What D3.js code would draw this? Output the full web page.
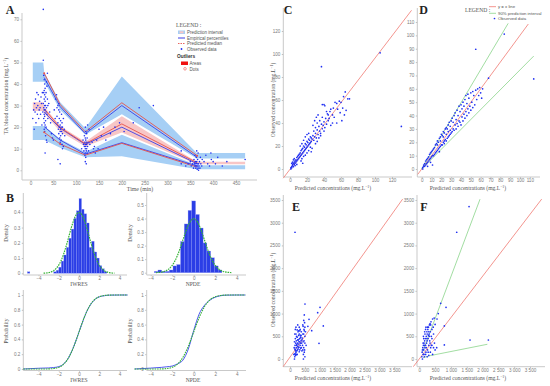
<html><head>
<script src="https://d3js.org/d3.v7.min.js"></script>
<style>
  body { margin: 0; background: #fff; }
  svg { display: block; }
  .tick text { fill: #7a7a7a; font-family: "Liberation Sans", Arial, sans-serif; }
  .tick line { stroke: #bdbdbd; }
  .axline { stroke: #c9c9c9; stroke-width: 1px; }
  .title { font-family: "Liberation Serif", serif; fill: #555; }
  .letter { font-family: "Liberation Serif", serif; font-weight: bold; font-size: 12px; fill: #222; }
  .leg { font-family: "Liberation Sans", Arial, sans-serif; fill: #555; }
</style>
</head>
<body>
<script>
// ---------- Panel A : VPC ----------
const piTime  = [5, 28, 30, 65, 120, 200, 364, 470];
const piUpLo  = [41, 41, 41, 28, 16.5, 26, 5.5, 5.5];
const piUpHi  = [50, 50, 45.5, 31.5, 19.5, 43.5, 8, 8];
const piMedLo = [27.5, 27.5, 26.5, 18, 11, 17.5, 2.8, 2.8];
const piMedHi = [31.5, 31.5, 29.5, 20.5, 13.2, 25, 4, 4];
const piLowLo = [14, 14, 14, 10.5, 6, 6.5, 0.5, 0.5];
const piLowHi = [20.5, 20.5, 20.5, 14.5, 8.5, 16.5, 2.3, 2.3];

const lineTime = [30, 65, 120, 200, 365];
const empUpper = [43, 29.5, 17, 30, 6];
const empMed   = [27, 19.5, 12, 20, 3];
const empLow   = [20.2, 14, 7.5, 12.8, 2];
const predUpper = [45, 30.5, 17.8, 31.3, 6.8];
const predMed   = [28.5, 19.8, 12.3, 21.5, 3.5];
const predLow   = [17.6, 12.2, 7, 12.5, 1.5];
const outlierDots = [[30, 45], [30, 17.6], [65, 12.2], [365, 6.8]];

const obsA = [
  [5,24],[7,28],[8,19],[9,31],[10,27],[11,33],[12,22],[13,29],[14,36],[15,26],[16,30],[17,35],[18,24],[19,28],[20,32],[21,29],[22,26],[23,34],[24,31],[25,21],[26,36],[27,27],
  [28,51],[29,44],[30,42],[31,40],[32,38],[30,37],[29,36],[31,35],[33,34],[30,33],[32,32],[28,31],[31,30],[33,30],[29,29],[30,28],[32,28],[34,27],[30,26],[31,25],[29,24],[33,23],[30,22],[32,21],[34,20],[30,19],[31,18],[33,16],[35,14],[36,13],[32,8],[35,41],[36,39],[34,36],[37,33],[38,30],[36,26],[37,45],[35,29],[38,24],
  [40,31],[42,27],[44,22],[46,17],[48,15],[50,14],[52,28],[54,24],
  [55,33],[57,35],[58,25],[60,30],[60,22],[61,19],[62,28],[62,17],[63,24],[63,20],[64,15],[64,27],[65,21],[65,18],[65,13],[66,19],[66,23],[66,16],[67,20],[67,14],[68,26],[68,18],[69,22],[69,12],[70,17],[70,20],[72,11],[72,24],[74,19],[75,16],[60,5],[65,3],[70,10],[58,29],[62,31],
  [112,10],[115,14],[116,12],[117,9],[118,16],[118,11],[119,13],[119,7],[120,20],[120,15],[120,12],[120,10],[120,8],[120,4],[121,18],[121,14],[121,11],[121,6],[122,13],[122,9],[122,3],[123,17],[123,12],[123,10],[124,15],[124,8],[125,21],[125,11],[126,13],[127,9],[128,19],[130,12],
  [135,13],[138,10],[140,11],[142,8],[145,14],[148,10],[150,19],[155,16],[160,20],[165,14],[175,17],[185,20],[195,22],[205,18],[225,22],[238,29],[269,30],[330,9],
  [350,4],[352,2],[355,3],[357,1],[358,5],[359,3],[360,2],[360,7],[361,4],[362,1],[362,3],[363,6],[363,2],[364,9],[364,4],[365,0.5],[365,3],[366,2],[366,5],[367,1],[367,8],[368,3],[368,0],[369,2],[370,4],[371,1],[372,6],[373,3],[375,2],[376,5],
  [330,3],[340,2],[345,3],[380,4],[384,7],[388,3],[392,2],[396,5],[400,4],[405,3],[410,6],[420,2],[430,4],[470,5],[395,8],
  [28,74.6]
];
const ticksA_x = [0, 50, 100, 150, 200, 250, 300, 350, 400, 450];
const ticksA_y = [0, 10, 20, 30, 40, 50, 60, 70];

// ---------- Panel B : residual distributions ----------
const iwresBins = [-5.1, -2.5, -2.25, -2, -1.75, -1.5, -1.25, -1, -0.75, -0.5, -0.25, 0, 0.25, 0.5, 0.75, 1, 1.25, 1.5, 1.75, 2, 2.25, 2.5];
const iwresDens = [0.01, 0.01, 0.02, 0.04, 0.08, 0.12, 0.17, 0.23, 0.29, 0.36, 0.41, 0.49, 0.42, 0.39, 0.33, 0.17, 0.21, 0.14, 0.1, 0.05, 0.03, 0.01];
const iwresWidth = 0.25;
const npdeCenters = [-3.5, -3.15, -2.8, -2.45, -2.1, -1.75, -1.4, -1.05, -0.7, -0.35, 0, 0.35, 0.7, 1.05, 1.4, 1.75, 2.1, 2.45];
const npdeDens = [0.01, 0.02, 0.01, 0.01, 0.02, 0.05, 0.06, 0.23, 0.36, 0.46, 0.53, 0.43, 0.33, 0.22, 0.16, 0.11, 0.05, 0.02];
const npdeWidth = 0.35;

const normX = [-4,-3.75,-3.5,-3.25,-3,-2.75,-2.5,-2.25,-2,-1.75,-1.5,-1.25,-1,-0.75,-0.5,-0.25,0,0.25,0.5,0.75,1,1.25,1.5,1.75,2,2.25,2.5,2.75,3,3.25,3.5,3.75,4];
const normPdf = [0.0001,0.0004,0.0009,0.002,0.0044,0.0091,0.0175,0.0317,0.054,0.0863,0.1295,0.1826,0.242,0.3011,0.3521,0.3867,0.3989,0.3867,0.3521,0.3011,0.242,0.1826,0.1295,0.0863,0.054,0.0317,0.0175,0.0091,0.0044,0.002,0.0009,0.0004,0.0001];
const cdfX = [-5.5, -4, -3, -2.5, -2, -1.5, -1, -0.5, 0, 0.5, 1, 1.5, 2, 2.5, 3, 4, 4.8];
const iwresCdf = [0, 0.01, 0.014, 0.02, 0.032, 0.07, 0.16, 0.31, 0.5, 0.69, 0.84, 0.93, 0.975, 0.99, 0.998, 1, 1];
const npdeCdf  = [0, 0.012, 0.022, 0.03, 0.04, 0.07, 0.12, 0.27, 0.52, 0.74, 0.86, 0.93, 0.97, 0.99, 0.998, 1, 1];
const normCdfWide = [0, 0, 0.0013, 0.0062, 0.0228, 0.0668, 0.1587, 0.3085, 0.5, 0.6915, 0.8413, 0.9332, 0.9772, 0.9938, 0.9987, 1, 1];

// ---------- Panels C, D : predicted vs observed (mg/L) ----------
const obsC = [
  [1,0],[1,1],[2,2],[2,1],[3,3],[3,4],[4,2],[4,5],[5,4],[5,6],[6,5],[6,7],[7,6],[7,8],[8,7],[8,10],[9,8],[9,11],[10,9],[10,12],[11,10],[11,13],[12,11],[12,14],[3,6],[4,8],[6,3],[8,4],[2,5],[5,9],
  [13,12],[13,16],[14,13],[14,17],[15,14],[15,18],[16,15],[16,20],[17,16],[17,19],[18,17],[18,22],[19,18],[19,21],[20,19],[20,24],[21,20],[21,23],[22,21],[22,26],[23,22],[23,25],[24,23],[24,28],[25,24],[25,27],[14,9],[16,11],[18,12],[20,14],[22,16],[24,19],[12,20],[14,22],[16,25],[18,28],[20,30],[22,31],[15,5],[25,15],[26,18],[13,7],
  [26,26],[27,29],[28,25],[28,33],[29,28],[30,31],[30,36],[31,27],[32,34],[32,40],[33,30],[34,37],[35,33],[35,42],[36,31],[37,39],[38,35],[38,45],[39,38],[40,41],[40,33],[41,36],[42,44],[43,39],[44,48],[45,42],[30,22],[32,24],[34,27],[36,29],[27,38],[29,42],[31,45],[33,47],
  [38,56],[40,56],[41,55],[43,50],[45,47],[46,44],[47,50],[48,52],[50,47],[51,53],[52,45],[53,58],[55,57],[56,52],[58,59],[59,49],[60,58],[61,42],[62,53],[63,63],[64,47],[65,67],[66,51],[68,61],[70,61],[48,38],[50,40],[55,40],
  [37,89],[106,101],[131,37]
];
const obsD = [
  [1,1],[1,0],[2,2],[2,3],[3,2],[3,4],[4,3],[4,6],[5,4],[5,7],[6,5],[6,8],[7,6],[7,9],[8,7],[8,11],[9,8],[9,12],[10,9],[10,13],[11,10],[11,14],[12,10],[12,15],[13,11],[13,16],[11,3],[6,2],[9,5],
  [14,12],[14,18],[15,13],[15,19],[16,14],[16,21],[17,15],[17,20],[18,16],[18,23],[19,17],[19,24],[20,18],[20,26],[21,18],[21,25],[22,20],[22,28],[23,21],[23,27],[24,22],[24,30],[25,21],[25,31],[26,23],[26,30],[27,24],[27,33],[28,25],[28,35],[29,26],[29,32],[30,27],[30,36],[16,18],[19,21],[22,24],[25,26],[27,28],[29,29],[18,13],[23,19],
  [31,28],[31,38],[32,30],[32,35],[33,29],[33,40],[34,33],[34,42],[35,30],[35,37],[36,34],[36,44],[37,32],[37,40],[38,36],[38,47],[39,35],[39,43],[40,33],[40,48],[41,39],[41,45],[42,36],[42,50],[43,41],[43,47],[44,38],[44,52],[45,43],[45,55],[46,40],[46,49],[47,45],[47,56],[48,42],[48,53],[49,47],[50,44],[50,57],[51,50],[52,46],[52,58],[53,55],[54,48],[55,59],[56,52],[57,60],[58,55],[59,61],[60,57],[61,53],[62,60],
  [55,89.6],[84,101],[68,68],[114,67.4]
];
const ticksC = [0, 20, 40, 60, 80, 100, 120];
const ticksD = [0, 10, 20, 30, 40, 50, 60, 70, 80, 90, 100, 110];
const refLineC = [[-8, -8], [143, 138]];
const refLineD = [[-4, -4], [108.5, 108.5]];
const greenUpD = [[0, 0], [88, 109]];
const greenLoD = [[0, 0], [114, 84.5]];

// ---------- Panels E, F : predicted vs observed (large scale) ----------
const obsE = [
  [150,0],[160,50],[170,120],[180,200],[190,80],[200,150],[210,250],[220,300],[230,180],[240,100],[250,350],[260,280],[270,220],[280,420],[290,330],[300,260],[310,160],[320,380],[330,450],[340,300],[350,520],[360,240],[370,400],[380,600],[390,350],[400,180],[410,460],[420,300],[430,550],[440,720],[450,100],[460,250],[470,400],[480,620],[490,800],[500,50],[500,350],[500,500],[490,200],[470,650],[450,0],[460,850],
  [130,100],[140,250],[150,380],[160,220],[170,300],[180,450],[190,350],[200,550],[210,400],[220,100],[230,320],[240,480],[250,200],[260,420],[270,600],[280,250],[290,520],[300,380],[310,700],[320,450],[330,200],[340,650],[350,350],[360,480],[380,250],[400,420],[430,200],[440,380],[460,550],[480,150],[160,550],[180,650],[200,700],[220,500],[240,640],[260,750],[290,620],[310,550],[330,620],[370,520],[500,700],[520,600],[540,300],[170,100],[190,180],
  [168,2790],[503,1211],[1007,1138],[929,1020],[1118,727],[973,345],[638,874],[728,623],[480,970],[430,750],[600,720]
];
const obsF = [
  [80,50],[90,150],[100,0],[110,250],[120,100],[130,300],[140,200],[150,350],[160,50],[170,400],[180,250],[190,450],[200,300],[210,150],[220,500],[230,350],[240,600],[250,400],[260,200],[270,650],[280,450],[290,700],[300,300],[310,550],[320,750],[330,400],[340,780],[350,600],[360,250],[370,820],[380,500],[400,650],[420,880],[440,700],[470,900],[500,760],
  [100,200],[120,350],[140,450],[160,300],[180,550],[200,650],[220,250],[240,450],[260,700],[280,150],[300,600],[320,500],[340,350],[360,750],[380,300],[400,450],[420,100],[450,550],[480,350],[500,200],[550,250],[150,100],[200,100],[250,50],[300,80],[350,150],[400,300],[450,250],[130,500],[170,600],[210,700],[250,550],[290,520],[600,1000],[560,880],
  [1573,3355],[1183,2790],[1604,418],[2184,418],[676,1226],[845,1138],[792,727],[792,309]
];
const ticksEF_x = [0, 500, 1000, 1500, 2000, 2500, 3000, 3500];
const ticksEF_y = [0, 500, 1000, 1500, 2000, 2500, 3000, 3500];
const refLineE = [[-230, -170], [3780, 3520]];
const refLineF = [[-190, -170], [3870, 3520]];
const greenUpF = [[108, 161], [1920, 3518]];
const greenLoF = [[120, 30], [338, 73], [2152, 324]];

// ---------- drawing ----------
const svg = d3.select("body").append("svg").attr("width", 550).attr("height", 386);

const BLUE_BAND = "#a6cff5", PINK_BAND = "#f8c6c6";
const BLUE_LINE = "#3b3fe6", RED_LINE = "#e6524c";
const DOT = "#2030f2", REF_RED = "#f07a72", REF_GREEN = "#8ad48a", HIST = "#2b3ee6", NORM = "#35b335";

function axes(x, y, o) {
  const g = svg.append("g");
  g.append("g").attr("transform", "translate(0," + o.bottom + ")")
    .call(d3.axisBottom(x).tickValues(o.xt).tickSize(1.2).tickPadding(0.6).tickFormat(o.xf || (d => d)));
  g.append("g").attr("transform", "translate(" + o.left + ",0)")
    .call(d3.axisLeft(y).tickValues(o.yt).tickSize(1.5).tickPadding(1.5).tickFormat(o.yf || (d => d)));
  g.selectAll(".domain").remove();
  g.selectAll(".tick text").style("font-size", "4.6px");
  g.append("line").attr("class", "axline")
    .attr("x1", o.left).attr("x2", o.right).attr("y1", o.bottom).attr("y2", o.bottom);
  g.append("line").attr("class", "axline")
    .attr("x1", o.left).attr("x2", o.left).attr("y1", o.top).attr("y2", o.bottom);
}

function dots(pts, x, y, r) {
  svg.append("g").selectAll("circle").data(pts).join("circle")
    .attr("cx", d => x(d[0])).attr("cy", d => y(d[1]))
    .attr("r", r || 0.85).attr("fill", DOT);
}

function polyline(pts, x, y, color, w, dash) {
  svg.append("path").attr("d", d3.line().x(d => x(d[0])).y(d => y(d[1]))(pts))
    .attr("fill", "none").attr("stroke", color).attr("stroke-width", w || 0.9)
    .attr("stroke-dasharray", dash || null);
}

function text(x, y, s, size, cls, rotate, anchor) {
  const t = svg.append("text").attr("class", cls).attr("font-size", size)
    .attr("text-anchor", anchor || "middle").text(s);
  if (rotate) t.attr("transform", "translate(" + x + "," + y + ") rotate(-90)");
  else t.attr("x", x).attr("y", y);
  return t;
}

function supText(x, y, base, size, cls, rotate) {
  const t = text(x, y, "", size, cls, rotate);
  t.append("tspan").text(base + " (mg.L");
  t.append("tspan").attr("dy", -size * 0.35).attr("font-size", size * 0.7).text("−1");
  t.append("tspan").attr("dy", size * 0.35).text(")");
}

// Panel A
const xA = d3.scaleLinear().domain([0, 450]).range([30.5, 236]);
const yA = d3.scaleLinear().domain([0, 70]).range([170.3, 19.3]);
axes(xA, yA, { left: 22, right: 257, top: 13, bottom: 180, xt: ticksA_x, yt: ticksA_y });

const band = (lo, hi) => d3.area()
  .x((d, i) => xA(piTime[i])).y0((d, i) => yA(lo[i])).y1((d, i) => yA(hi[i]))(piTime);
svg.append("path").attr("d", band(piUpLo, piUpHi)).attr("fill", BLUE_BAND);
svg.append("path").attr("d", band(piMedLo, piMedHi)).attr("fill", PINK_BAND);
svg.append("path").attr("d", band(piLowLo, piLowHi)).attr("fill", BLUE_BAND);

[[empUpper, BLUE_LINE], [empMed, BLUE_LINE], [empLow, BLUE_LINE],
 [predUpper, RED_LINE], [predMed, RED_LINE], [predLow, RED_LINE]].forEach(([vals, c]) => {
  polyline(lineTime.map((t, i) => [t, vals[i]]), xA, yA, c, 0.9);
});
dots(obsA, xA, yA, 0.8);
svg.append("g").selectAll("circle").data(outlierDots).join("circle")
  .attr("cx", d => xA(d[0])).attr("cy", d => yA(d[1])).attr("r", 1)
  .attr("fill", RED_LINE);

text(10, 14, "A", 11, "letter");
supText(8, 96, "TA blood concentration", 5.8, "title", true);
text(140, 191, "Time (min)", 5.8, "title");

// legend A
const lg = svg.append("g").attr("class", "leg");
lg.append("text").attr("x", 176).attr("y", 27).attr("font-size", 5.6)
  .attr("font-family", "Liberation Serif, serif").attr("fill", "#555").text("LEGEND :");
lg.append("rect").attr("x", 178).attr("y", 30.5).attr("width", 7).attr("height", 3.5).attr("fill", BLUE_BAND);
lg.append("rect").attr("x", 179.5).attr("y", 31.3).attr("width", 4).attr("height", 2).attr("fill", PINK_BAND);
lg.append("line").attr("x1", 178).attr("x2", 185).attr("y1", 38).attr("y2", 38).attr("stroke", BLUE_LINE).attr("stroke-width", 1);
lg.append("line").attr("x1", 178).attr("x2", 185).attr("y1", 43.5).attr("y2", 43.5).attr("stroke", RED_LINE).attr("stroke-width", 0.9).attr("stroke-dasharray", "1.5,1");
lg.append("circle").attr("cx", 181.5).attr("cy", 49).attr("r", 0.9).attr("fill", DOT);
[["Prediction interval", 33.8], ["Empirical percentiles", 39.5], ["Predicted median", 45], ["Observed data", 50.5]]
  .forEach(([s, yy]) => lg.append("text").attr("class", "leg").attr("x", 187).attr("y", yy).attr("font-size", 4.5).text(s));
lg.append("text").attr("x", 177).attr("y", 58).attr("font-size", 4.8).attr("font-weight", "bold").attr("fill", "#333").text("Outliers");
lg.append("rect").attr("x", 181).attr("y", 61.5).attr("width", 7).attr("height", 3.5).attr("fill", "#f01010");
lg.append("text").attr("class", "leg").attr("x", 189.5).attr("y", 64.8).attr("font-size", 4.5).text("Areas");
lg.append("circle").attr("cx", 185).attr("cy", 68.8).attr("r", 1.3).attr("fill", "none").attr("stroke", "#f05050").attr("stroke-width", 0.6);
lg.append("text").attr("class", "leg").attr("x", 189.5).attr("y", 70.5).attr("font-size", 4.5).text("Dots");

// Panel B
const yB1 = d3.scaleLinear().domain([0, 0.4]).range([273.3, 212.3]);
const yB2 = d3.scaleLinear().domain([0, 0.5]).range([272.7, 205]);
const yB3 = d3.scaleLinear().domain([0, 1]).range([369, 295]);
const xBL = d3.scaleLinear().domain([-4, 4]).range([38.5, 119.5]);
const xBR = d3.scaleLinear().domain([-4, 4]).range([150.7, 236.7]);
const xtB = [-4, -2, 0, 2, 4];
const fmtNeg = d => (d < 0 ? "−" + Math.abs(d) : d);

axes(xBL, yB1, { left: 23.3, right: 127, top: 193, bottom: 275, xt: xtB, yt: [0, 0.1, 0.2, 0.3, 0.4], xf: fmtNeg });
axes(xBR, yB2, { left: 146.7, right: 246, top: 193, bottom: 275, xt: xtB, yt: [0, 0.1, 0.2, 0.3, 0.4, 0.5], xf: fmtNeg });
axes(xBL, yB3, { left: 23.3, right: 127, top: 290, bottom: 370.5, xt: xtB, yt: [0, 0.2, 0.4, 0.6, 0.8, 1], xf: fmtNeg });
axes(xBR, yB3, { left: 146.7, right: 246, top: 290, bottom: 370.5, xt: xtB, yt: [0, 0.2, 0.4, 0.6, 0.8, 1], xf: fmtNeg });

svg.append("g").selectAll("rect").data(iwresBins).join("rect")
  .attr("x", d => xBL(d)).attr("width", xBL(iwresWidth) - xBL(0))
  .attr("y", (d, i) => yB1(iwresDens[i])).attr("height", (d, i) => yB1(0) - yB1(iwresDens[i]))
  .attr("fill", HIST).attr("stroke", "#8f9af5").attr("stroke-width", 0.25);
svg.append("g").selectAll("rect").data(npdeCenters).join("rect")
  .attr("x", d => xBR(d - npdeWidth / 2)).attr("width", xBR(npdeWidth) - xBR(0))
  .attr("y", (d, i) => yB2(npdeDens[i])).attr("height", (d, i) => yB2(0) - yB2(npdeDens[i]))
  .attr("fill", HIST).attr("stroke", "#8f9af5").attr("stroke-width", 0.3);

function curve(xs, ys, x, y, color, w, dash) {
  svg.append("path")
    .attr("d", d3.line().curve(d3.curveMonotoneX).x((d, i) => x(xs[i])).y((d, i) => y(ys[i]))(xs))
    .attr("fill", "none").attr("stroke", color).attr("stroke-width", w).attr("stroke-dasharray", dash || null);
}
const pdfTrim = normX.map((d, i) => i).filter(i => normX[i] >= -3.5 && normX[i] <= 3.5);
curve(pdfTrim.map(i => normX[i]), pdfTrim.map(i => normPdf[i]), xBL, yB1, NORM, 1.2, "1.6,0.9");
curve(pdfTrim.map(i => normX[i]), pdfTrim.map(i => normPdf[i]), xBR, yB2, NORM, 1.2, "1.6,0.9");

curve(cdfX, iwresCdf, xBL, yB3, "#3a44ee", 0.9);
curve(cdfX, normCdfWide, xBL, yB3, NORM, 1.1, "1.6,0.9");
curve(cdfX, npdeCdf, xBR, yB3, "#3a44ee", 0.9);
curve(cdfX, normCdfWide, xBR, yB3, NORM, 1.1, "1.6,0.9");

text(10, 202, "B", 11, "letter");
text(7.5, 233, "Density", 5.6, "title", true);
text(131.5, 233, "Density", 5.6, "title", true);
text(79, 285.5, "IWRES", 5.6, "title");
text(193, 285.5, "NPDE", 5.6, "title");
text(7.5, 331, "Probability", 5.6, "title", true);
text(131.5, 331, "Probability", 5.6, "title", true);
text(79, 381.5, "IWRES", 5.6, "title");
text(193, 381.5, "NPDE", 5.6, "title");

// Panel C
const xC = d3.scaleLinear().domain([0, 120]).range([290, 392]);
const yC = d3.scaleLinear().domain([0, 120]).range([169, 31]);
axes(xC, yC, { left: 283.3, right: 412, top: 8, bottom: 177, xt: ticksC, yt: ticksC });
polyline(refLineC, xC, yC, REF_RED, 0.8);
dots(obsC, xC, yC, 0.85);
text(288, 14, "C", 11, "letter");
supText(274.5, 100, "Observed concentration", 5.6, "title", true);
supText(333, 189.5, "Predicted concentrations", 5.6, "title");

// Panel D
const xD = d3.scaleLinear().domain([0, 110]).range([421.7, 529.8]);
const yD = d3.scaleLinear().domain([0, 110]).range([169, 22]);
axes(xD, yD, { left: 417.3, right: 540, top: 8, bottom: 177, xt: ticksD, yt: ticksD });
polyline(refLineD, xD, yD, REF_RED, 0.8);
polyline(greenUpD, xD, yD, REF_GREEN, 0.8);
polyline(greenLoD, xD, yD, REF_GREEN, 0.8);
dots(obsD, xD, yD, 0.85);
text(423.5, 14, "D", 11, "letter");
supText(468, 189.5, "Predicted concentrations", 5.6, "title");

const lgD = svg.append("g");
lgD.append("text").attr("x", 465).attr("y", 12).attr("font-size", 5.6)
  .attr("font-family", "Liberation Serif, serif").attr("fill", "#555").text("LEGEND :");
lgD.append("line").attr("x1", 489).attr("x2", 496).attr("y1", 6.7).attr("y2", 6.7).attr("stroke", REF_RED).attr("stroke-width", 0.8);
lgD.append("line").attr("x1", 489).attr("x2", 496).attr("y1", 13.3).attr("y2", 13.3).attr("stroke", REF_GREEN).attr("stroke-width", 0.8);
lgD.append("circle").attr("cx", 494.5).attr("cy", 18.5).attr("r", 0.85).attr("fill", DOT);
[["y = x line", 8.3], ["90% prediction interval", 14.9], ["Observed data", 20]]
  .forEach(([s, yy]) => lgD.append("text").attr("class", "leg").attr("x", 498).attr("y", yy).attr("font-size", 4.3).text(s));

// Panels E and F
const fmtSpace = d => (d >= 1000 ? d3.format(",")(d).replace(",", " ") : d);
const xE = d3.scaleLinear().domain([0, 3500]).range([290, 394.3]);
const yEF = d3.scaleLinear().domain([0, 3500]).range([359, 200]);
axes(xE, yEF, { left: 283.3, right: 412, top: 195, bottom: 366.7, xt: ticksEF_x, yt: ticksEF_y, xf: fmtSpace });
polyline(refLineE, xE, yEF, REF_RED, 0.8);
dots(obsE, xE, yEF, 0.85);
text(296, 211, "E", 11, "letter");
supText(274.5, 290, "Observed concentration", 5.6, "title", true);
supText(333, 379.5, "Predicted concentrations", 5.6, "title");

const xF = d3.scaleLinear().domain([0, 3500]).range([419.3, 530]);
axes(xF, yEF, { left: 417, right: 545, top: 195, bottom: 366.7, xt: ticksEF_x, yt: ticksEF_y, xf: fmtSpace });
polyline(refLineF, xF, yEF, REF_RED, 0.8);
polyline(greenUpF, xF, yEF, REF_GREEN, 0.8);
polyline(greenLoF, xF, yEF, REF_GREEN, 0.8);
dots(obsF, xF, yEF, 0.85);
text(424, 211, "F", 11, "letter");
supText(468, 379.5, "Predicted concentrations", 5.6, "title");
</script>
</body></html>
